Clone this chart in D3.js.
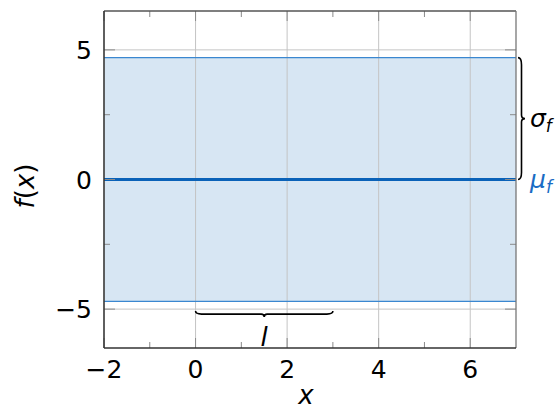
<!DOCTYPE html>
<html><head><meta charset="utf-8">
<script src="https://cdn.jsdelivr.net/npm/d3@7"></script>
<style>body{margin:0;background:#fff}svg{display:block}text{font-family:"DejaVu Sans",sans-serif}</style>
</head><body>
<svg id="c" width="559" height="412"></svg>
<script>
const xDomain = [-2, 7];
const yDomain = [-6.5, 6.5];
const xMajorTicks = [-2, 0, 2, 4, 6];
const xMinorTicks = [-1, 1, 3, 5];
const yMajorTicks = [-5, 0, 5];
const yMinorTicks = [-2.5, 2.5];
const meanValue = [0];
const sigmaValue = [4.7];
const lengthStart = [0];
const lengthValue = [3];

const svg = d3.select("#c");
const L = 104, R = 516, T = 11, B = 348;
const x = d3.scaleLinear().domain(xDomain).range([L, R]);
const y = d3.scaleLinear().domain(yDomain).range([B, T]);

// band
svg.append("rect").attr("x", L).attr("width", R - L)
  .attr("y", y(meanValue[0] + sigmaValue[0])).attr("height", y(meanValue[0] - sigmaValue[0]) - y(meanValue[0] + sigmaValue[0]))
  .attr("fill", "#d7e6f3");

// gridlines
const g = svg.append("g");
g.selectAll(".vg").data(xMajorTicks).join("line")
  .attr("x1", d => x(d)).attr("x2", d => x(d)).attr("y1", T).attr("y2", B)
  .attr("stroke", "#c4c4c4").attr("stroke-width", 1);
g.selectAll(".hg").data(yMajorTicks).join("line")
  .attr("y1", d => y(d)).attr("y2", d => y(d)).attr("x1", L).attr("x2", R)
  .attr("stroke", "#c4c4c4").attr("stroke-width", 1);

// band edges
[meanValue[0] + sigmaValue[0], meanValue[0] - sigmaValue[0]].forEach(v => {
  svg.append("line").attr("x1", L).attr("x2", R).attr("y1", y(v)).attr("y2", y(v))
    .attr("stroke", "#3a87d0").attr("stroke-width", 1.2);
});
// mean line
svg.append("line").attr("x1", L).attr("x2", R).attr("y1", y(meanValue[0])).attr("y2", y(meanValue[0]))
  .attr("stroke", "#0a62b8").attr("stroke-width", 3);

// ticks
const tk = svg.append("g").attr("stroke", "#8a8a8a").attr("stroke-width", 1);
xMinorTicks.forEach(d => {
  tk.append("line").attr("x1", x(d)).attr("x2", x(d)).attr("y1", T).attr("y2", T + 6);
  tk.append("line").attr("x1", x(d)).attr("x2", x(d)).attr("y1", B).attr("y2", B - 6);
});
xMajorTicks.forEach(d => {
  tk.append("line").attr("x1", x(d)).attr("x2", x(d)).attr("y1", T).attr("y2", T + 10);
  tk.append("line").attr("x1", x(d)).attr("x2", x(d)).attr("y1", B).attr("y2", B - 10);
});
yMinorTicks.forEach(d => {
  tk.append("line").attr("y1", y(d)).attr("y2", y(d)).attr("x1", L).attr("x2", L + 6);
  tk.append("line").attr("y1", y(d)).attr("y2", y(d)).attr("x1", R).attr("x2", R - 6);
});
yMajorTicks.forEach(d => {
  tk.append("line").attr("y1", y(d)).attr("y2", y(d)).attr("x1", L).attr("x2", L + 11);
  tk.append("line").attr("y1", y(d)).attr("y2", y(d)).attr("x1", R).attr("x2", R - 11);
});

// box
svg.append("line").attr("x1", L).attr("x2", R).attr("y1", T).attr("y2", T).attr("stroke", "#555").attr("stroke-width", 1.3);
svg.append("line").attr("x1", R).attr("x2", R).attr("y1", T).attr("y2", B).attr("stroke", "#777").attr("stroke-width", 1.3);
svg.append("line").attr("x1", L).attr("x2", L).attr("y1", T).attr("y2", B).attr("stroke", "#333").attr("stroke-width", 1.5);
svg.append("line").attr("x1", L).attr("x2", R).attr("y1", B).attr("y2", B).attr("stroke", "#333").attr("stroke-width", 1.5);

// tick labels
const fmt = d => d < 0 ? "\u2212" + Math.abs(d) : String(d);
svg.selectAll(".xl").data(xMajorTicks).join("text")
  .attr("x", d => x(d)).attr("y", B + 30).attr("text-anchor", "middle")
  .attr("font-size", 25).attr("fill", "#000").text(fmt);
svg.selectAll(".yl").data(yMajorTicks).join("text")
  .attr("x", L - 12).attr("y", d => y(d) + 9).attr("text-anchor", "end")
  .attr("font-size", 25).attr("fill", "#000").text(fmt);

// axis titles
svg.append("text").attr("x", 306).attr("y", 404).attr("text-anchor", "middle")
  .attr("font-size", 26).attr("font-style", "italic").text("x");
const yt = svg.append("text").attr("transform", `translate(34,186) rotate(-90)`).attr("text-anchor", "middle")
  .attr("font-size", 26);
yt.append("tspan").attr("font-style", "italic").text("f");
yt.append("tspan").text("(");
yt.append("tspan").attr("font-style", "italic").text("x");
yt.append("tspan").text(")");

// braces
function vBrace(x0, y0, y1, w) {
  const ym = (y0 + y1) / 2;
  return `M${x0},${y0} Q${x0 + w / 2},${y0} ${x0 + w / 2},${y0 + w} L${x0 + w / 2},${ym - w / 2} Q${x0 + w / 2},${ym} ${x0 + w},${ym}` +
    ` Q${x0 + w / 2},${ym} ${x0 + w / 2},${ym + w / 2} L${x0 + w / 2},${y1 - w} Q${x0 + w / 2},${y1} ${x0},${y1}`;
}
function hBrace(x0, x1, y0, h) {
  const xm = (x0 + x1) / 2;
  return `M${x0},${y0} Q${x0},${y0 + h / 2} ${x0 + h},${y0 + h / 2} L${xm - h / 2},${y0 + h / 2} Q${xm},${y0 + h / 2} ${xm},${y0 + h}` +
    ` Q${xm},${y0 + h / 2} ${xm + h / 2},${y0 + h / 2} L${x1 - h},${y0 + h / 2} Q${x1},${y0 + h / 2} ${x1},${y0}`;
}
svg.append("path").attr("d", vBrace(R + 2, y(meanValue[0] + sigmaValue[0]), y(meanValue[0]), 7))
  .attr("fill", "none").attr("stroke", "#000").attr("stroke-width", 1.6);
svg.append("path").attr("d", hBrace(x(lengthStart[0]), x(lengthStart[0] + lengthValue[0]), y(-5) + 2, 6))
  .attr("fill", "none").attr("stroke", "#000").attr("stroke-width", 1.6);

// annotations
const sig = svg.append("text").attr("x", 530).attr("y", y(meanValue[0] + sigmaValue[0] / 2) + 8).attr("font-size", 25).attr("font-style", "italic");
sig.append("tspan").text("σ");
sig.append("tspan").attr("font-size", 17).attr("dy", 5).text("f");
const mu = svg.append("text").attr("x", 530).attr("y", y(meanValue[0]) + 8).attr("font-size", 25).attr("font-style", "italic").attr("fill", "#1a6cc4");
mu.append("tspan").text("μ");
mu.append("tspan").attr("font-size", 17).attr("dy", 5).text("f");
svg.append("text").attr("x", x(lengthStart[0] + lengthValue[0] / 2)).attr("y", y(-5) + 37).attr("text-anchor", "middle")
  .attr("font-size", 26).attr("font-style", "italic").text("l");
</script>
</body></html>
